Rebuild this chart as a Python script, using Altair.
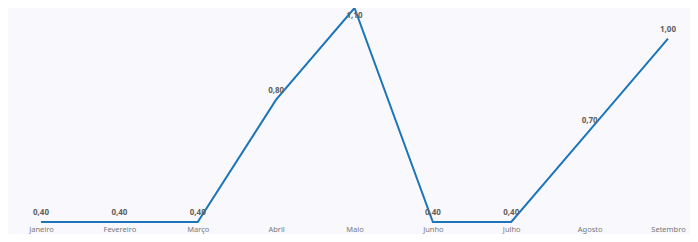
import altair as alt
import pandas as pd

months = ["Janeiro", "Fevereiro", "Março", "Abril", "Maio", "Junho", "Julho", "Agosto", "Setembro"]
values = [0.40, 0.40, 0.40, 0.80, 1.10, 0.40, 0.40, 0.70, 1.00]

df = pd.DataFrame({
    "mes": months,
    "valor": values,
    "rotulo": [f"{v:.2f}".replace(".", ",") for v in values],
})
vmax = max(values)

FONT = "Noto Sans"

x = alt.X("mes:N", sort=months, title=None,
          scale=alt.Scale(type="point", padding=0),
          axis=alt.Axis(domain=False, ticks=False, grid=False, labelAngle=0,
                        labelFont=FONT, labelFontSize=7.5, labelColor="#777777",
                        labelPadding=3, labelOverlap=False, labelBound=False))
y = alt.Y("valor:Q", title=None, scale=alt.Scale(domain=[0.4, 1.1], nice=False, zero=False),
          axis=None)

base = alt.Chart(df).encode(x=x, y=y)

line = base.mark_line(color="#1b75b8", strokeWidth=2, clip=False)

labels_up = base.transform_filter(alt.datum.valor < vmax).mark_text(
    dy=-9, font=FONT, fontSize=8, fontWeight="bold", color="#606060"
).encode(text="rotulo:N")

labels_down = base.transform_filter(alt.datum.valor >= vmax).mark_text(
    dy=8, font=FONT, fontSize=8, fontWeight="bold", color="#606060"
).encode(text="rotulo:N")

chart = alt.layer(line, labels_up, labels_down).properties(
    width=627, height=214,
    background="#f9f9fd",
    padding={"left": 33, "right": 22, "top": 0, "bottom": 12},
    autosize=alt.AutoSizeParams(type="none"),
).configure_view(stroke=None)

chart.save("out.html", embed_options={"renderer": "svg", "actions": False})
